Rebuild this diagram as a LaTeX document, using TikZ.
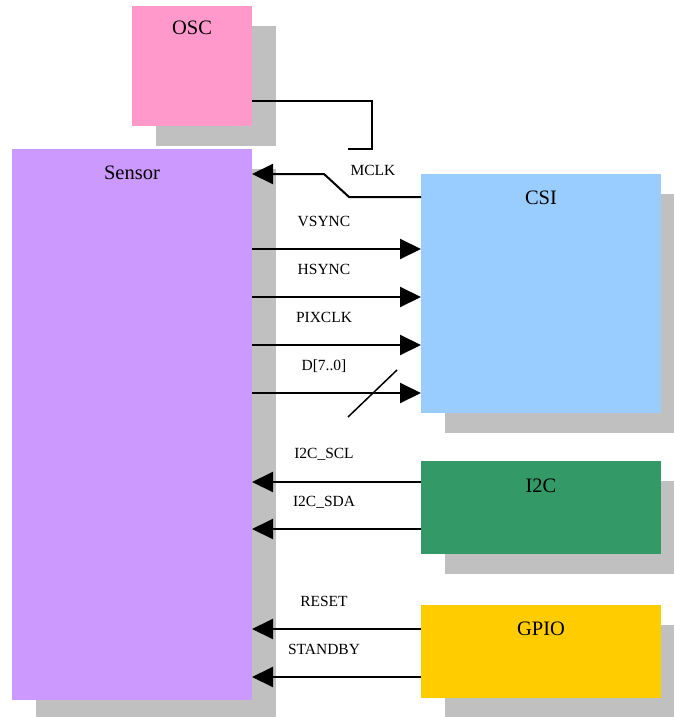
\documentclass[tikz,border=0pt]{standalone}
\usepackage{fontspec}
\setmainfont{Liberation Serif}
\usetikzlibrary{arrows.meta,calc,shadows}
\definecolor{shadowgray}{HTML}{C0C0C0}
\definecolor{oscc}{HTML}{FF99CC}
\definecolor{sensorc}{HTML}{CC99FF}
\definecolor{csic}{HTML}{99CCFF}
\definecolor{i2cc}{HTML}{339966}
\definecolor{gpioc}{HTML}{FFCC00}
\tikzset{
  block/.style={draw=none, inner sep=0pt, outer sep=0pt, anchor=north west, minimum width=240pt,
    drop shadow={shadow xshift=24pt, shadow yshift=-20pt, opacity=1, fill=shadowgray}},
  title/.style={anchor=base, inner sep=0pt, font=\fontsize{20.5}{24}\selectfont},
  siglabel/.style={anchor=base, inner sep=0pt, font=\fontsize{15.5}{18}\selectfont},
  wire/.style={line width=2pt, black},
  sig/.style={wire, -{Triangle[length=21pt,width=20pt]}},
}
\begin{document}
\begin{tikzpicture}[x=1pt,y=-1pt]
\useasboundingbox (0,0) rectangle (673,717);
% blocks
\node[block, fill=oscc, minimum width=120pt, minimum height=120pt] (osc) at (132,6) {};
\node[block, fill=sensorc, minimum height=551pt] (sensor) at (12,149) {};
\node[block, fill=csic, minimum height=239pt] (csi) at (421,174) {};
\node[block, fill=i2cc, minimum height=93pt] (i2c) at (421,461) {};
\node[block, fill=gpioc, minimum height=93pt] (gpio) at (421,605) {};
% titles
\node[title] (osct) at ($(osc.north)+(0,29)$) {OSC};
\node[title] (sensort) at ($(sensor.north)+(0,30)$) {Sensor};
\node[title] (csit) at ($(csi.north)+(0,30)$) {CSI};
\node[title] (i2ct) at ($(i2c.north)+(0,31)$) {I2C};
\node[title] (gpiot) at ($(gpio.north)+(0,30)$) {GPIO};
% OSC to MCLK
\coordinate (mclkend) at (348,149);
\draw[wire] (osc.east |- 0,101) -- (372,101) -- (372,149) -- (mclkend);
% MCLK
\draw[sig] (csi.west |- 0,197) -- (349,197) -- (324,174) -- (sensor.east |- 0,174);
\node[siglabel] (mclk) at (373,175) {MCLK};
% sensor to CSI
\draw[sig] (sensor.east |- 0,249) -- (csi.west |- 0,249);
\draw[sig] (sensor.east |- 0,297) -- (csi.west |- 0,297);
\draw[sig] (sensor.east |- 0,345) -- (csi.west |- 0,345);
\draw[sig] (sensor.east |- 0,393) -- (csi.west |- 0,393);
\node[siglabel] (vs) at (324,226) {VSYNC};
\node[siglabel] (hs) at (324,274) {HSYNC};
\node[siglabel] (pc) at (324,322) {PIXCLK};
\node[siglabel] (dd) at (324,370) {D[7..0]};
\coordinate (slashA) at (348,417);
\coordinate (slashB) at (397,370);
\draw[line width=1.5pt] (slashA) -- (slashB);
% I2C
\draw[sig] (i2c.west |- 0,482) -- (sensor.east |- 0,482);
\draw[sig] (i2c.west |- 0,529) -- (sensor.east |- 0,529);
\node[siglabel] (scl) at (324,458) {I2C\_SCL};
\node[siglabel] (sda) at (324,506) {I2C\_SDA};
% GPIO
\draw[sig] (gpio.west |- 0,629) -- (sensor.east |- 0,629);
\draw[sig] (gpio.west |- 0,677) -- (sensor.east |- 0,677);
\node[siglabel] (rst) at (324,606) {RESET};
\node[siglabel] (stb) at (324,654) {STANDBY};
\end{tikzpicture}
\end{document}
